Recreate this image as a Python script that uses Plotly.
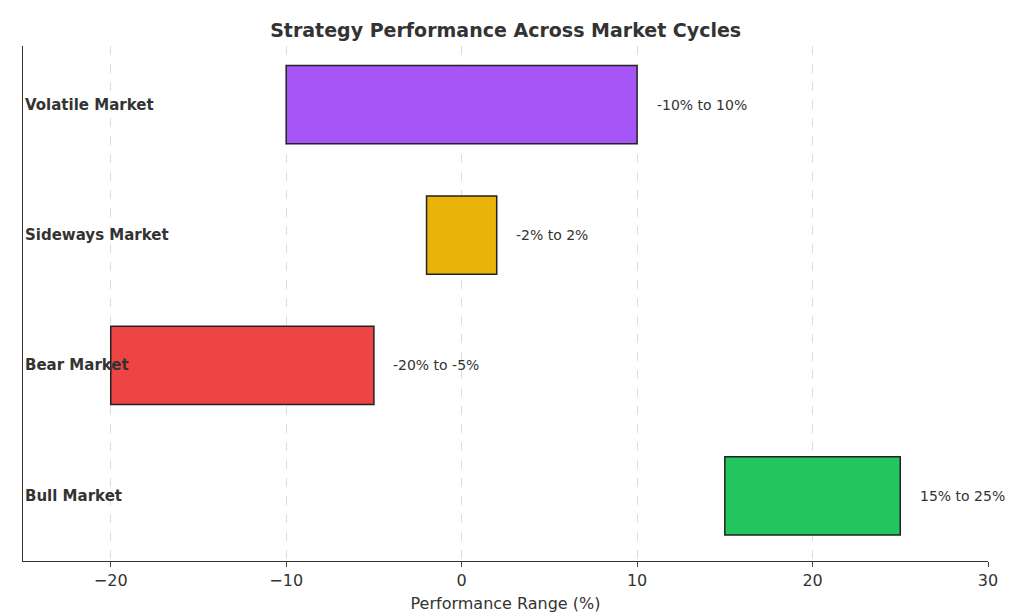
import plotly.graph_objects as go

categories = ["Bull Market", "Bear Market", "Sideways Market", "Volatile Market"]
starts = [15, -20, -2, -10]
ends = [25, -5, 2, 10]
labels = ["15% to 25%", "-20% to -5%", "-2% to 2%", "-10% to 10%"]
colors = ["#22c55e", "#ef4444", "#eab308", "#a855f7"]

fig = go.Figure(go.Bar(
    y=categories, x=[e - s for s, e in zip(starts, ends)], base=starts,
    orientation="h", width=0.6,
    marker=dict(color=colors, line=dict(color="#222", width=1.5)),
    hoverinfo="skip"))

ann = []
for c, e, l in zip(categories, ends, labels):
    ann.append(dict(x=e + 1, y=c, text=l, showarrow=False, xanchor="left",
                    font=dict(size=14, color="#333")))
    ann.append(dict(x=-25, y=c, text="<b>" + c + "</b>", showarrow=False, xanchor="left",
                    font=dict(size=15, color="#333")))

fig.update_layout(
    width=1024, height=614, plot_bgcolor="white", paper_bgcolor="white",
    margin=dict(l=15, r=44, t=38, b=61),
    font=dict(family="DejaVu Sans", color="#333"),
    title=dict(text="<b>Strategy Performance Across Market Cycles</b>", x=0.486, y=0.975,
               xanchor="center", font=dict(size=19, color="#333")),
    annotations=ann, showlegend=False,
    xaxis=dict(range=[-25, 30], tickvals=[-20, -10, 0, 10, 20, 30],
               ticktext=["−20", "−10", "0", "10", "20", "30"],
               showgrid=True, gridcolor="#ddd", griddash="dash", zeroline=False,
               showline=True, linecolor="#333", ticks="outside", ticklen=5,
               tickfont=dict(size=16),
               title=dict(text="Performance Range (%)", font=dict(size=16), standoff=8)),
    yaxis=dict(showticklabels=False, showline=True, linecolor="#333",
               range=[-0.5, 3.45], showgrid=False),
)
fig.write_html("out.html")
